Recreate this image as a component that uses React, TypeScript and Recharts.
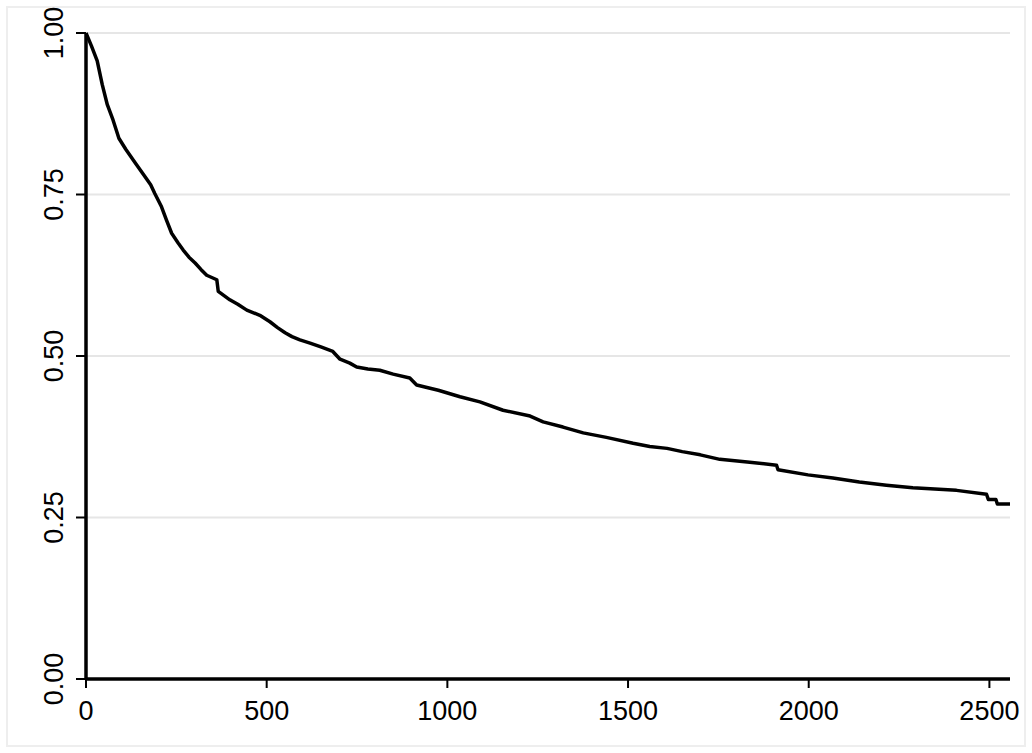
import { LineChart, Line, XAxis, YAxis, CartesianGrid } from 'recharts';

// survival estimate (analysis time, S(t))
const times = [
  0, 15, 31, 45, 59, 75, 91, 110, 135, 160, 179, 190, 209, 223, 237, 255, 269, 285,
  302, 318, 334, 362, 366, 398, 420, 445, 481, 509, 530, 551, 570, 592, 620, 650,
  683, 703, 730, 749, 780, 813, 850, 896, 915, 975, 1035, 1090, 1154, 1229, 1265,
  1320, 1376, 1440, 1514, 1560, 1608, 1650, 1700, 1754, 1830, 1911, 1915, 1998,
  2067, 2140, 2215, 2288, 2409, 2492, 2497, 2518, 2522, 2557,
];
const survival = [
  1.0, 0.98, 0.957, 0.92, 0.889, 0.865, 0.837, 0.82, 0.8, 0.78, 0.765, 0.752, 0.731,
  0.71, 0.69, 0.675, 0.664, 0.653, 0.644, 0.634, 0.625, 0.618, 0.6, 0.587, 0.58,
  0.571, 0.563, 0.553, 0.544, 0.536, 0.53, 0.525, 0.52, 0.514, 0.507, 0.495, 0.489,
  0.483, 0.48, 0.478, 0.472, 0.466, 0.455, 0.447, 0.437, 0.429, 0.416, 0.407, 0.398,
  0.39, 0.381, 0.374, 0.365, 0.36, 0.357, 0.352, 0.347, 0.34, 0.336, 0.331, 0.324,
  0.316, 0.311, 0.305, 0.3, 0.296, 0.292, 0.286, 0.278, 0.278, 0.271, 0.271,
];
const xTicks = [0, 500, 1000, 1500, 2000, 2500];
const yTicks = [0, 0.25, 0.5, 0.75, 1];

const data = times.map((t, i) => ({ t, s: survival[i] }));

const font = '"Liberation Sans", Arial, sans-serif';

function XTick({ x, y, payload }: any) {
  return (
    <text x={x} y={y} dy={30} textAnchor="middle" fontSize={27} fontFamily={font} fill="#000">
      {payload.value}
    </text>
  );
}

function YTick({ x, y, payload }: any) {
  const bx = x - 11;
  return (
    <text
      x={bx}
      y={y}
      textAnchor="middle"
      fontSize={27}
      fontFamily={font}
      fill="#000"
      transform={`rotate(-90, ${bx}, ${y})`}
    >
      {Number(payload.value).toFixed(2)}
    </text>
  );
}

export default function App() {
  return (
    <div style={{ position: 'absolute', left: 0, top: 0, width: 1032, height: 753, background: '#fff' }}>
      <div
        style={{
          position: 'absolute',
          left: 6,
          top: 6,
          width: 1020,
          height: 741,
          border: '2px solid #eeeeee',
          boxSizing: 'border-box',
        }}
      />
      <div style={{ position: 'absolute', left: 0, top: 0 }}>
        <LineChart width={1032} height={753} data={data} margin={{ top: 33, right: 22, bottom: 0, left: 0 }}>
          <CartesianGrid vertical={false} stroke="#e6e6e6" strokeWidth={2} />
          <XAxis
            dataKey="t"
            type="number"
            domain={[0, 2557]}
            ticks={xTicks}
            height={74}
            allowDataOverflow
            axisLine={{ stroke: '#000', strokeWidth: 3.5 }}
            tickLine={{ stroke: '#000', strokeWidth: 2 }}
            tickSize={9}
            tick={<XTick />}
          />
          <YAxis
            type="number"
            domain={[0, 1]}
            ticks={yTicks}
            width={86}
            axisLine={{ stroke: '#000', strokeWidth: 3.5 }}
            tickLine={{ stroke: '#000', strokeWidth: 2 }}
            tickSize={10}
            tick={<YTick />}
          />
          <Line
            type="linear"
            dataKey="s"
            stroke="#000"
            strokeWidth={3.5}
            strokeLinejoin="round"
            dot={false}
            isAnimationActive={false}
          />
        </LineChart>
      </div>
    </div>
  );
}
